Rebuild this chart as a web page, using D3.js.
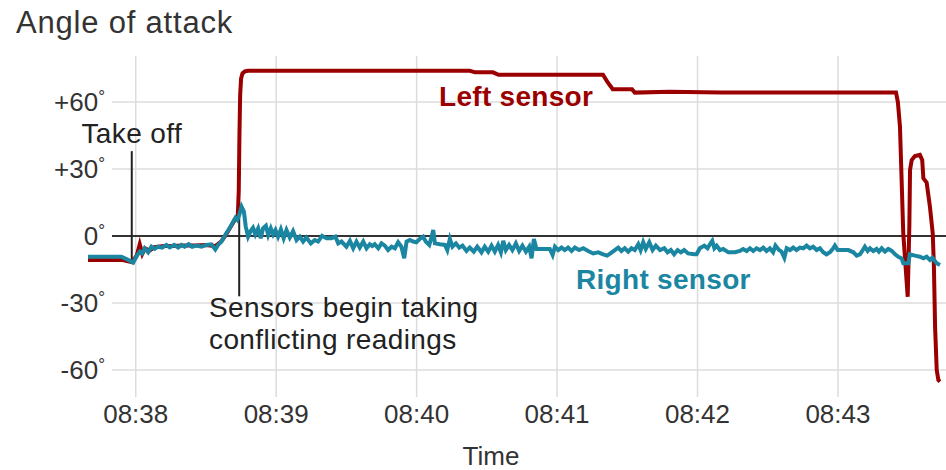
<!DOCTYPE html>
<html>
<head>
<meta charset="utf-8">
<script src="https://d3js.org/d3.v7.min.js"></script>
<style>
  body { margin: 0; background: #fff; }
  svg { display: block; font-family: "Liberation Sans", Arial, sans-serif; }
</style>
</head>
<body>
<div id="chart"></div>
<script>
// seconds after 08:38:00, angle in degrees
var leftSensor = [
  [-20.4,-10.7],[-6.1,-10.7],[-1.5,-11.8],[0.5,-8.5],[1.7,-3.7],[2.8,-8],[4,-5.5],[6,-6.5],
  [8,-5],[12,-4.5],[16,-4.5],[20,-4.3],[25,-4.2],[30,-4.0],[34,-4.5],[36.5,-2.5],[38.5,0.5],
  [40.5,4],[42.5,7.5],[43.6,9],[44.0,20],[44.3,45],[44.6,63],[45.0,70.5],[45.6,72.8],[46.6,73.7],
  [48,74],[142.7,74],[145,73.3],[152.6,73.3],[155,72.2],[199.6,72.2],[201.5,69],[203.8,65.7],
  [212,65.7],[213.2,64.2],[228,64.6],[250,64.3],[324.8,64.3],[325.6,60],[326.5,49],[327.9,1.3],
  [329.8,-27.2],[330.5,4.2],[330.8,29.6],[331.5,34],[332.9,35.8],[335.0,36.3],[336.0,34],
  [336.5,25.8],[337.9,23.9],[339.3,13.1],[340.5,1.2],[341.0,-13.7],[341.5,-40.6],[342.2,-60],
  [342.9,-64.5],[343.6,-65.2]
];

var rightSensor = [
  [-20.4,-9.3],[-6.1,-9.3],[-3.3,-10.7],[-1.1,-11.9],[0.7,-8.5],[1.7,-7.0],[2.7,-7.8],[3.8,-5.5],
  [5.3,-7.3],[6.7,-4.8],[8.1,-5.8],[9.5,-4.8],[11.3,-5.2],[13.1,-4.0],[14.5,-5.1],[16.4,-4.0],
  [18.1,-5.2],[19.5,-4.0],[20.9,-4.8],[22.6,-3.7],[24.1,-4.8],[25.9,-4.3],[28.1,-4.8],[30.2,-4.0],
  [32.3,-3.7],[34.0,-6.0],[35.2,-4.0],[36.6,-2.5],[38.7,1.2],[40.5,4.2],[41.6,6.4],[42.6,8.2],
  [43.4,7.2],[44.2,9.4],[45.2,13.1],[46.2,10.9],[47.0,4.2],[48.0,-0.3],[49.1,2.2],[50.1,3.7],
  [51.1,0.7],[52.3,3.4],[53.4,-1.0],[54.4,3.4],[55.6,4.6],[56.6,0.4],[57.7,3.4],[58.7,0.7],
  [59.7,2.7],[60.8,-0.3],[62.0,3.0],[63.2,-1.0],[64.4,2.7],[65.8,-0.7],[67.2,2.2],[68.7,-1.8],
  [70.1,-0.3],[71.5,-2.5],[72.9,-0.7],[74.8,-3.3],[76.5,-1.8],[77.9,-2.5],[79.6,0.1],[81.5,-1.0],
  [83.6,-1.0],[85.3,-0.3],[86.5,-3.3],[87.9,-2.5],[90.0,-4.8],[91.5,-2.2],[92.9,-5.5],[94.3,-2.5],
  [95.7,-5.2],[97.2,-2.5],[98.6,-5.5],[100.0,-3.7],[101.0,-4.5],[102.1,-3.7],[103.6,-5.5],
  [105.0,-3.3],[106.4,-4.3],[107.8,-6.3],[109.3,-4.8],[110.7,-5.5],[112.1,-2.8],[113.5,-4.8],
  [114.7,-10.0],[115.7,-2.5],[117.1,-1.8],[118.5,-2.5],[119.9,-2.8],[121.4,-1.3],[122.8,-0.3],
  [123.9,-2.5],[125.4,-4.0],[126.4,-0.3],[127.1,2.7],[127.8,-3.3],[130.0,-3.7],[132.1,-4.0],
  [133.1,-6.3],[134.2,-1.3],[135.3,-4.8],[136.8,-3.3],[138.2,-5.2],[139.6,-4.3],[141.3,-6.7],
  [142.7,-5.2],[144.4,-7.0],[145.9,-4.8],[147.7,-7.3],[149.1,-4.8],[150.6,-7.0],[152.0,-4.3],
  [153.4,-7.0],[154.8,-4.0],[156.0,-7.3],[157.0,-2.2],[158.1,-6.3],[159.5,-4.0],[160.9,-6.3],
  [162.4,-3.3],[163.8,-6.7],[165.2,-4.3],[166.7,-7.0],[168.1,-4.8],[169.1,-10.0],[170.1,-1.3],
  [171.2,-5.8],[174.1,-5.8],[176.9,-5.8],[178.1,-8.5],[179.1,-4.8],[180.5,-6.3],[181.9,-5.2],
  [183.3,-6.3],[184.7,-5.2],[186.2,-6.7],[187.6,-5.2],[189.4,-6.3],[191.2,-5.5],[193.3,-6.7],
  [195.4,-7.8],[197.6,-7.3],[199.7,-8.2],[201.4,-8.8],[202.8,-7.8],[204.7,-6.3],[206.1,-5.2],
  [207.5,-6.7],[208.9,-5.5],[210.4,-7.0],[211.8,-5.5],[213.2,-6.3],[214.7,-3.7],[215.7,-6.3],
  [216.8,-2.8],[217.9,-5.8],[219.4,-2.8],[220.8,-6.3],[222.2,-4.3],[224.0,-6.3],[225.8,-5.5],
  [227.2,-7.3],[228.6,-6.3],[230.0,-8.2],[231.5,-6.3],[232.9,-7.3],[234.3,-6.3],[236.0,-7.8],
  [238.6,-8.2],[239.6,-8.2],[241.0,-5.5],[242.9,-4.3],[244.3,-5.5],[245.3,-3.7],[246.3,-2.2],
  [247.2,-5.5],[248.2,-4.3],[249.6,-6.3],[251.0,-5.8],[253.2,-7.3],[256.0,-7.3],[258.1,-6.7],
  [259.5,-5.8],[261.0,-6.7],[262.4,-5.5],[263.8,-6.7],[265.2,-5.5],[266.7,-6.3],[268.1,-5.2],
  [269.5,-6.7],[270.9,-5.5],[272.3,-7.3],[273.3,-4.3],[274.8,-6.3],[275.9,-7.0],[277.1,-9.7],
  [278.1,-5.5],[279.5,-6.3],[280.9,-5.2],[282.3,-6.3],[283.7,-5.2],[285.2,-5.5],[286.6,-4.3],
  [288.0,-5.5],[289.4,-4.8],[290.9,-6.3],[292.3,-5.5],[293.7,-7.3],[295.1,-8.2],[296.6,-7.3],
  [298.0,-5.5],[298.7,-4.3],[299.9,-6.3],[304.4,-6.3],[306.6,-7.3],[308.0,-8.8],[309.4,-8.2],
  [310.4,-6.7],[311.5,-4.8],[312.7,-6.7],[313.7,-5.5],[315.1,-6.7],[316.5,-5.8],[317.5,-7.0],
  [318.7,-5.5],[320.1,-7.0],[321.5,-5.8],[323.0,-6.7],[324.4,-8.2],[325.8,-9.3],[327.2,-10.0],
  [327.9,-12.2],[330.1,-12.2],[330.7,-8.2],[332.9,-8.8],[335.0,-9.3],[336.5,-10.0],[337.9,-9.3],
  [339.3,-10.7],[340.3,-9.7],[342.2,-12.2],[343.6,-13.0]
];

var yTicks = [-60, -30, 0, 30, 60];
var yTickLabels = ["-60", "-30", "0", "+30", "+60"];
var takeOff = { t: -1.7, top: 38, bottom: -11.6 };
var conflict = { t: 44.2, top: 10, bottom: -27 };

var width = 946, height = 470;
var base = new Date(2018, 9, 29, 8, 38, 0);
function toDate(s) { return new Date(base.getTime() + s * 1000); }

var svg = d3.select("#chart").append("svg")
    .attr("width", width)
    .attr("height", height);

var x = d3.scaleTime()
    .domain([toDate(-20.4), toDate(343.6)])
    .range([88, 940]);

var y = d3.scaleLinear()
    .domain([-60, 60])
    .range([370, 102]);

var gridLeft = 112, gridRight = 946, gridTop = 56, gridBottom = 397;

// title
svg.append("text")
    .attr("x", 16).attr("y", 33)
    .attr("font-size", "31px")
    .attr("letter-spacing", "0.8px")
    .attr("fill", "#333")
    .text("Angle of attack");

// horizontal grid
svg.append("g").selectAll("line")
    .data(yTicks)
    .enter().append("line")
    .attr("x1", gridLeft).attr("x2", gridRight)
    .attr("y1", function(d) { return y(d); })
    .attr("y2", function(d) { return y(d); })
    .attr("stroke", "#dcdcdc")
    .attr("stroke-width", 1.5);

// vertical grid
var xTicks = x.ticks(d3.timeMinute.every(1));
svg.append("g").selectAll("line")
    .data(xTicks)
    .enter().append("line")
    .attr("x1", function(d) { return x(d); })
    .attr("x2", function(d) { return x(d); })
    .attr("y1", gridTop).attr("y2", gridBottom)
    .attr("stroke", "#dcdcdc")
    .attr("stroke-width", 1.5);

// zero line
svg.append("line")
    .attr("x1", gridLeft).attr("x2", gridRight)
    .attr("y1", y(0)).attr("y2", y(0))
    .attr("stroke", "#333")
    .attr("stroke-width", 2);

// y labels
var yl = svg.append("g").selectAll("text")
    .data(yTicks)
    .enter().append("text")
    .attr("x", 105)
    .attr("y", function(d) { return y(d) + 9; })
    .attr("text-anchor", "end")
    .attr("font-size", "26px")
    .attr("fill", "#333");
yl.append("tspan").text(function(d, i) { return yTickLabels[i]; });
yl.append("tspan").attr("font-size", "17px").attr("dy", -9).text("°");

// x labels
var fmt = d3.timeFormat("%H:%M");
svg.append("g").selectAll("text")
    .data(xTicks)
    .enter().append("text")
    .attr("x", function(d) { return x(d); })
    .attr("y", 423)
    .attr("text-anchor", "middle")
    .attr("font-size", "26px")
    .attr("fill", "#333")
    .text(function(d) { return fmt(d); });

svg.append("text")
    .attr("x", 491).attr("y", 465)
    .attr("text-anchor", "middle")
    .attr("font-size", "26px")
    .attr("fill", "#333")
    .text("Time");

// annotation lines
svg.append("line")
    .attr("x1", x(toDate(takeOff.t))).attr("x2", x(toDate(takeOff.t)))
    .attr("y1", y(takeOff.top)).attr("y2", y(takeOff.bottom))
    .attr("stroke", "#222").attr("stroke-width", 2);
svg.append("line")
    .attr("x1", x(toDate(conflict.t))).attr("x2", x(toDate(conflict.t)))
    .attr("y1", y(conflict.top)).attr("y2", y(conflict.bottom))
    .attr("stroke", "#222").attr("stroke-width", 2);

var line = d3.line()
    .x(function(d) { return x(toDate(d[0])); })
    .y(function(d) { return y(d[1]); });

svg.append("path")
    .datum(leftSensor)
    .attr("d", line)
    .attr("fill", "none")
    .attr("stroke", "#9b0000")
    .attr("stroke-width", 4);

svg.append("path")
    .datum(rightSensor)
    .attr("d", line)
    .attr("fill", "none")
    .attr("stroke", "#1a86a1")
    .attr("stroke-width", 4);

// annotation text
svg.append("text")
    .attr("x", x(toDate(takeOff.t))).attr("y", 143)
    .attr("text-anchor", "middle")
    .attr("font-size", "28px")
    .attr("letter-spacing", "0.4px")
    .attr("fill", "#222")
    .text("Take off");

var ct = svg.append("text")
    .attr("x", 209).attr("y", 317)
    .attr("font-size", "28px")
    .attr("letter-spacing", "0.4px")
    .attr("fill", "#222");
ct.append("tspan").attr("x", 209).text("Sensors begin taking");
ct.append("tspan").attr("x", 209).attr("dy", 32).text("conflicting readings");

svg.append("text")
    .attr("x", 439).attr("y", 106)
    .attr("font-size", "28px")
    .attr("letter-spacing", "0.3px")
    .attr("font-weight", "bold")
    .attr("fill", "#9b0000")
    .text("Left sensor");

svg.append("text")
    .attr("x", 576).attr("y", 289)
    .attr("font-size", "28px")
    .attr("letter-spacing", "0.3px")
    .attr("font-weight", "bold")
    .attr("fill", "#1a86a1")
    .text("Right sensor");
</script>
</body>
</html>
